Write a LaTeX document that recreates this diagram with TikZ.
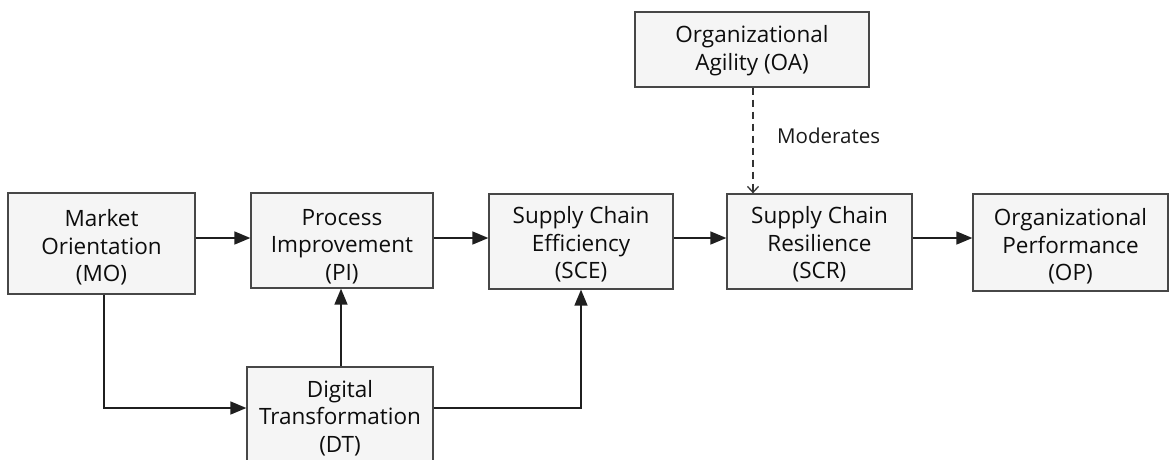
\documentclass[tikz,border=0pt]{standalone}
\usepackage{fontspec}
\setmainfont{Open Sans}
\usetikzlibrary{arrows.meta,calc}
\begin{document}
\begin{tikzpicture}[x=1pt,y=-1pt,
  box/.style={draw=black!72,line width=1.3pt,fill=black!4,inner sep=0pt},
  boxtext/.style={align=center,inner sep=0pt,font=\fontsize{22.5}{27.5}\selectfont,text=black!95},
  arr/.style={line width=1.6pt,draw=black!88,-{Triangle[length=16pt,width=13pt]}},
  dasharr/.style={line width=1.3pt,draw=black!80,dash pattern=on 7pt off 5pt,
    -{Straight Barb[length=6pt,width=11pt]}},
  lbl/.style={font=\fontsize{20.5}{24}\selectfont,text=black!90,anchor=west,inner sep=0pt}]
\useasboundingbox (0,0) rectangle (1171,459);
\clip (0,0) rectangle (1171,459);
\node[box,minimum width=187pt,minimum height=101pt,
  label={[boxtext,yshift=-4pt,name=MOt]center:{Market\\Orientation\\(MO)}}] (MO) at (101.5,243.5) {};
\node[box,minimum width=182pt,minimum height=95pt,
  label={[boxtext,yshift=-6pt,name=PIt]center:{Process\\Improvement\\(PI)}}] (PI) at (342,240.5) {};
\node[box,minimum width=184pt,minimum height=95pt,
  label={[boxtext,yshift=-3pt,name=SCEt]center:{Supply Chain\\Efficiency\\(SCE)}}] (SCE) at (581,241.5) {};
\node[box,minimum width=185pt,minimum height=95pt,
  label={[boxtext,yshift=-3pt,name=SCRt]center:{Supply Chain\\Resilience\\(SCR)}}] (SCR) at (819.5,241.5) {};
\node[box,minimum width=195pt,minimum height=97pt,
  label={[boxtext,yshift=-4pt,name=OPt]center:{Organizational\\Performance\\(OP)}}] (OP) at (1070.5,242.5) {};
\node[box,minimum width=234pt,minimum height=75pt,
  label={[boxtext,yshift=-1pt,name=OAt]center:{Organizational\\Agility (OA)}}] (OA) at (752,49.5) {};
\node[box,minimum width=186pt,minimum height=100pt,
  label={[boxtext,yshift=-1pt,name=DTt]center:{Digital\\Transformation\\(DT)}}] (DT) at (340,417) {};
\draw[arr] (MO.east |- 0,238) -- (PI.west |- 0,238);
\draw[arr] (PI.east |- 0,238) -- (SCE.west |- 0,238);
\draw[arr] (SCE.east |- 0,238) -- (SCR.west |- 0,238);
\draw[arr] (SCR.east |- 0,238) -- (OP.west |- 0,238);
\draw[arr] (MO.south -| 104,0) |- ([yshift=9pt]DT.west);
\draw[arr] (DT.north -| 341,0) -- (PI.south -| 341,0);
\draw[arr] ([yshift=9pt]DT.east) -| (SCE.south);
\draw[dasharr] (OA.south -| 753,0) -- (SCR.north -| 753,0);
\node[lbl] (mod) at (777,136) {Moderates};
\end{tikzpicture}
\end{document}
